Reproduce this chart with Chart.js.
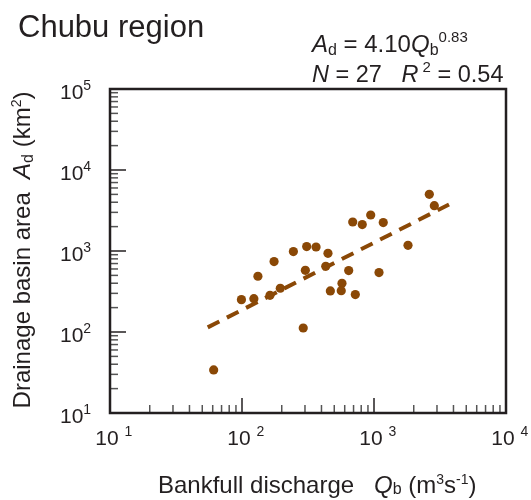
<!DOCTYPE html>
<html>
<head>
<meta charset="utf-8">
<title>Chubu region</title>
<script src="https://cdn.jsdelivr.net/npm/chart.js@4.4.0/dist/chart.umd.min.js"></script>
<style>
  body { margin: 0; background: #fff; }
  #wrap { width: 531px; height: 500px; }
</style>
</head>
<body>
<div id="wrap"><canvas id="myChart" width="531" height="500"></canvas></div>
<script>
// Bankfull discharge Qb (m3/s) and drainage area Ad (km2)
const discharge = [61, 99, 123, 132, 163, 175, 195, 245, 309, 364, 302, 291, 448, 431,
    643, 467, 572, 565, 722, 1091, 690, 815, 944, 1175, 1810, 2624, 2864];
const basinArea = [34, 251, 258, 488, 284, 740, 347, 983, 1133, 1120, 578, 112, 937, 647,
    573, 321, 399, 324, 290, 541, 2280, 2118, 2782, 2242, 1175, 5012, 3631];

// dashed fit line Ad = 4.10 Qb^0.83, end points as drawn
const fitQ = [55, 3700];
const fitA = [114, 3750];

// tick labels: 10^n
const xTickValues = [10, 100, 1000, 10000];
const xTickExp = ['1', '2', '3', '4'];
const yTickValues = [10, 100, 1000, 10000, 100000];
const yTickExp = ['1', '2', '3', '4', '5'];

const brown = '#8a4806';
const ink = '#231f20';
const FONT = '"Liberation Sans", Arial, sans-serif';

// dibuja texto con partes en cursiva / sub / superindice
function richWidth(ctx, parts) {
    let w = 0;
    parts.forEach(p => {
        ctx.font = (p.it ? 'italic ' : '') + p.size + 'px ' + FONT;
        w += ctx.measureText(p.t).width;
    });
    return w;
}
function drawRich(ctx, parts, x, y) {
    let cx = x;
    parts.forEach(p => {
        ctx.font = (p.it ? 'italic ' : '') + p.size + 'px ' + FONT;
        ctx.fillText(p.t, cx, y + (p.dy || 0));
        cx += ctx.measureText(p.t).width;
    });
}

// minor tick values 1..9 x 10^n between the limits
function logTicks(min, max) {
    let out = [];
    for (let d = min; d < max; d *= 10) {
        for (let k = 1; k < 10; k++) out.push({ v: d * k, major: k === 1 });
    }
    out.push({ v: max, major: true });
    return out;
}

const axisPlugin = {
    id: 'axisPlugin',
    afterDraw(chart) {
        const ctx = chart.ctx;
        const xs = chart.scales.x;
        const ys = chart.scales.y;
        const a = chart.chartArea;
        ctx.save();

        // ticks pointing inward, left and bottom only
        logTicks(10, 100000).forEach(t => {
            let py = ys.getPixelForValue(t.v);
            ctx.beginPath();
            ctx.strokeStyle = t.major ? ink : '#555';
            ctx.lineWidth = 1.5;
            ctx.moveTo(a.left, py);
            ctx.lineTo(a.left + (t.major ? 16 : 8), py);
            ctx.stroke();
        });
        logTicks(10, 10000).forEach(t => {
            let px = xs.getPixelForValue(t.v);
            ctx.beginPath();
            ctx.strokeStyle = t.major ? ink : '#555';
            ctx.lineWidth = 1.5;
            ctx.moveTo(px, a.bottom);
            ctx.lineTo(px, a.bottom - (t.major ? 15 : 8));
            ctx.stroke();
        });

        // frame
        ctx.strokeStyle = ink;
        ctx.lineWidth = 2.5;
        ctx.strokeRect(a.left, a.top, a.right - a.left, a.bottom - a.top);

        ctx.fillStyle = ink;
        ctx.textBaseline = 'alphabetic';
        ctx.textAlign = 'left';

        // y tick labels
        yTickValues.forEach((v, i) => {
            let py = ys.getPixelForValue(v);
            drawRich(ctx, [
                { t: '10', size: 21 },
                { t: yTickExp[i], size: 14, dy: -9 }
            ], 60, py + 10);
        });

        // x tick labels (there is a gap before the exponent)
        xTickValues.forEach((v, i) => {
            let px = xs.getPixelForValue(v);
            ctx.font = '21px ' + FONT;
            let w10 = ctx.measureText('10').width;
            drawRich(ctx, [
                { t: '10 ', size: 21 },
                { t: xTickExp[i], size: 14, dy: -9 }
            ], px - 3 - w10 / 2, 445);
        });

        // title and fit stats
        drawRich(ctx, [{ t: 'Chubu region', size: 31 }], 18, 37);
        drawRich(ctx, [
            { t: 'A', size: 24, it: true },
            { t: 'd', size: 16, dy: 3 },
            { t: ' = 4.10', size: 24 },
            { t: 'Q', size: 24, it: true },
            { t: 'b', size: 16, dy: 3 },
            { t: '0.83', size: 15, dy: -10 }
        ], 312, 52);
        drawRich(ctx, [
            { t: 'N', size: 23.5, it: true },
            { t: ' = 27   ', size: 23.5 },
            { t: 'R', size: 23.5, it: true },
            { t: ' 2', size: 15, dy: -10 },
            { t: ' = 0.54', size: 23.5 }
        ], 312, 82);

        // x axis title
        drawRich(ctx, [
            { t: 'Bankfull discharge   ', size: 24 },
            { t: 'Q', size: 24, it: true },
            { t: 'b', size: 16, dy: 1 },
            { t: ' (m', size: 24 },
            { t: '3', size: 14, dy: -9 },
            { t: 's', size: 24 },
            { t: '-1', size: 14, dy: -9 },
            { t: ')', size: 24 }
        ], 158, 493);

        // y axis title, rotated
        let yParts = [
            { t: 'Drainage basin area  ', size: 24 },
            { t: 'A', size: 24, it: true },
            { t: 'd', size: 16, dy: 3 },
            { t: ' (km', size: 24 },
            { t: '2', size: 14, dy: -9 },
            { t: ')', size: 24 }
        ];
        let w = richWidth(ctx, yParts);
        ctx.translate(30, 250);
        ctx.rotate(-Math.PI / 2);
        drawRich(ctx, yParts, -w / 2, 0);

        ctx.restore();
    }
};

window.onload = () => {
    const ctx = document.getElementById('myChart').getContext('2d');
    const points = discharge.map((q, i) => ({ x: q, y: basinArea[i] }));
    const fit = fitQ.map((q, i) => ({ x: q, y: fitA[i] }));

    new Chart(ctx, {
        type: 'scatter',
        data: {
            datasets: [{
                label: 'fit',
                data: fit,
                showLine: true,
                borderColor: brown,
                borderWidth: 4,
                borderDash: [13, 8.5],
                borderCapStyle: 'butt',
                pointRadius: 0,
                fill: false
            }, {
                label: 'rivers',
                data: points,
                backgroundColor: brown,
                borderWidth: 0,
                pointRadius: 4.6
            }]
        },
        options: {
            responsive: false,
            animation: false,
            devicePixelRatio: 1,
            layout: { padding: { left: 110, right: 25, top: 89, bottom: 87 } },
            plugins: { legend: { display: false }, tooltip: { enabled: false } },
            scales: {
                x: {
                    type: 'logarithmic', min: 10, max: 10000,
                    ticks: { display: false }, grid: { display: false }, border: { display: false },
                    afterFit: (s) => { s.height = 0; }
                },
                y: {
                    type: 'logarithmic', min: 10, max: 100000,
                    ticks: { display: false }, grid: { display: false }, border: { display: false },
                    afterFit: (s) => { s.width = 0; }
                }
            }
        },
        plugins: [axisPlugin]
    });
};
</script>
</body>
</html>
